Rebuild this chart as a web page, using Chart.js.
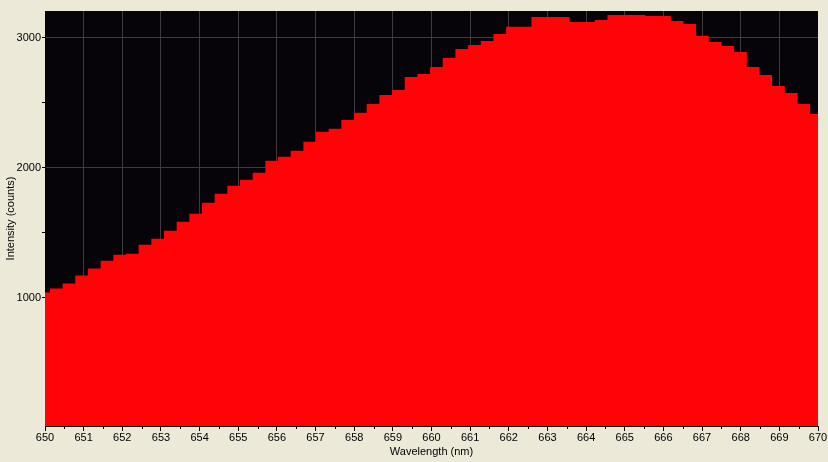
<!DOCTYPE html>
<html>
<head>
<meta charset="utf-8">
<script src="https://cdn.jsdelivr.net/npm/chart.js@4/dist/chart.umd.min.js"></script>
<style>
  html, body { margin: 0; padding: 0; background: #ece9d8; }
  canvas { display: block; }
</style>
</head>
<body>
<canvas id="spectrum" width="828" height="462"></canvas>
<script>
// Bin edges (nm), one more than the counts
const wavelengthEdges = [
  649.801, 650.129, 650.457, 650.784, 651.112, 651.440, 651.768, 652.096, 652.423, 652.751,
  653.079, 653.407, 653.735, 654.062, 654.390, 654.718, 655.046, 655.374, 655.701, 656.029,
  656.357, 656.685, 657.013, 657.340, 657.668, 657.996, 658.324, 658.652, 658.979, 659.307,
  659.635, 659.963, 660.291, 660.618, 660.946, 661.274, 661.602, 661.930, 662.257, 662.585,
  662.913, 663.241, 663.569, 663.896, 664.224, 664.552, 664.880, 665.208, 665.535, 665.863,
  666.191, 666.519, 666.847, 667.174, 667.502, 667.830, 668.158, 668.486, 668.813, 669.141,
  669.469, 669.797, 670.125
];

// Intensity per bin (counts)
const counts = [
  1041, 1071, 1110, 1171, 1225, 1286, 1332, 1340, 1409, 1455,
  1516, 1585, 1647, 1731, 1800, 1862, 1908, 1961, 2053, 2084,
  2130, 2199, 2276, 2299, 2368, 2422, 2491, 2560, 2598, 2698,
  2721, 2775, 2844, 2913, 2944, 2975, 3029, 3083, 3083, 3159,
  3159, 3159, 3121, 3121, 3136, 3175, 3175, 3175, 3167, 3167,
  3129, 3106, 3014, 2967, 2936, 2890, 2775, 2714, 2629, 2575,
  2491, 2414
];

const xRange = [650, 670];
const yRange = [15, 3205];
const yTicks = [1000, 1500, 2000, 2500, 3000];
const yLabelled = [1000, 2000, 3000];

// step outline: each count starts at its left edge, last one closed at the final edge
const points = counts.map((c, i) => ({ x: wavelengthEdges[i], y: c }));
points.push({ x: wavelengthEdges[counts.length], y: counts[counts.length - 1] });

const FONT = { family: 'Liberation Sans, Arial, sans-serif', size: 11 };
const GRID = '#3c3c3c';

// black plot background
const plotBackground = {
    id: 'plotBackground',
    beforeDraw(chart) {
        const { ctx, chartArea: a } = chart;
        ctx.save();
        ctx.fillStyle = '#060408';
        ctx.fillRect(a.left, a.top, a.right - a.left, a.bottom - a.top);
        ctx.restore();
    }
};

// short minor ticks halfway between the wavelength labels
const minorTicks = {
    id: 'minorTicks',
    afterDraw(chart) {
        const { ctx, chartArea: a } = chart;
        const xs = chart.scales.x;
        ctx.save();
        ctx.strokeStyle = '#000';
        ctx.lineWidth = 1;
        for (let i = 0; i < xs.ticks.length - 1; i++) {
            const mid = (xs.ticks[i].value + xs.ticks[i + 1].value) / 2;
            const px = Math.round(xs.getPixelForValue(mid)) + 0.5;
            ctx.beginPath();
            ctx.moveTo(px, a.bottom);
            ctx.lineTo(px, a.bottom + 3);
            ctx.stroke();
        }
        ctx.restore();
    }
};

new Chart(document.getElementById('spectrum'), {
    type: 'line',
    data: {
        datasets: [{
            data: points,
            stepped: 'before',
            fill: 'start',
            backgroundColor: '#ff0307',
            borderWidth: 0,
            pointRadius: 0
        }]
    },
    options: {
        responsive: false,
        animation: false,
        layout: { padding: { left: 0, right: 10, top: 11, bottom: 0 } },
        plugins: { legend: { display: false }, tooltip: { enabled: false } },
        scales: {
            x: {
                type: 'linear',
                min: xRange[0],
                max: xRange[1],
                z: 1,
                afterFit: s => { s.height = 36; },
                ticks: {
                    stepSize: 1,
                    autoSkip: false,
                    maxRotation: 0,
                    padding: 0,
                    color: '#000',
                    font: FONT
                },
                grid: {
                    color: c => (c.tick && c.tick.value === xRange[1]) ? 'transparent' : GRID,
                    tickColor: '#000',
                    tickLength: 5
                },
                border: { color: '#000', width: 1 },
                title: {
                    display: true,
                    text: 'Wavelength (nm)',
                    color: '#000',
                    font: FONT,
                    padding: { top: 0, bottom: 3 }
                }
            },
            y: {
                min: yRange[0],
                max: yRange[1],
                z: 1,
                afterFit: s => { s.width = 45; },
                afterBuildTicks: s => { s.ticks = yTicks.map(v => ({ value: v })); },
                ticks: {
                    autoSkip: false,
                    padding: 1,
                    color: '#000',
                    font: FONT,
                    callback: v => (yLabelled.includes(v) ? v : '')
                },
                grid: {
                    color: c => (c.tick && yLabelled.includes(c.tick.value)) ? GRID : 'transparent',
                    tickColor: '#000',
                    tickLength: 3
                },
                border: { color: '#000', width: 1 },
                title: {
                    display: true,
                    text: 'Intensity (counts)',
                    color: '#000',
                    font: FONT,
                    padding: { top: 4, bottom: 0 }
                }
            }
        }
    },
    plugins: [plotBackground, minorTicks]
});
</script>
</body>
</html>
